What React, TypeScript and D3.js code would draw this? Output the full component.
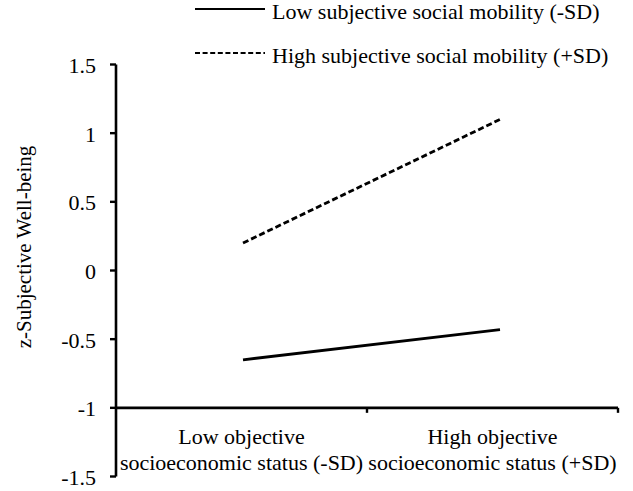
import React from "react";
import * as d3 from "d3";

const categories = ["Low objective|socioeconomic status (-SD)", "High objective|socioeconomic status (+SD)"];
const seriesNames = ["Low subjective social mobility (-SD)", "High subjective social mobility (+SD)"];
const lowMobility = [-0.65, -0.43];
const highMobility = [0.2, 1.1];
const yTicks = [1.5, 1, 0.5, 0, -0.5, -1, -1.5];
const yLabel = "z-Subjective Well-being";

const W = 633, H = 491;
const FONT = "'Liberation Serif', 'Times New Roman', serif";

export default function App() {
  const y = d3.scaleLinear().domain([-1.5, 1.5]).range([476.5, 64.5]);
  const xBand = d3.scaleBand().domain(categories).range([116, 618]).padding(0);
  const xPt = d3.scalePoint().domain(categories).range([243, 500]);
  const line = d3.line<[string, number]>().x(d => xPt(d[0]) as number).y(d => y(d[1]));
  const lowData = categories.map((c, i) => [c, lowMobility[i]] as [string, number]);
  const highData = categories.map((c, i) => [c, highMobility[i]] as [string, number]);
  const axisY = y(-1);
  const tickFmt = (v: number) => (v === 0 ? "0" : String(v));
  return (
    <svg width={W} height={H} style={{ position: "absolute", left: 0, top: 0, background: "#fff" }} fontFamily={FONT}>
      {/* legend */}
      <line x1={195} x2={265} y1={9} y2={9} stroke="#000" strokeWidth={2.2} />
      <text x={272} y={19} fontSize={22}>{seriesNames[0]}</text>
      <line x1={195} x2={265} y1={53} y2={53} stroke="#000" strokeWidth={2} strokeDasharray="5,2.6" />
      <text x={272} y={63} fontSize={22}>{seriesNames[1]}</text>

      {/* y axis */}
      <line x1={116} x2={116} y1={y(1.5)} y2={y(-1.5)} stroke="#000" strokeWidth={2.6} />
      {yTicks.map(t => (
        <g key={t}>
          <line x1={110} x2={116} y1={y(t)} y2={y(t)} stroke="#000" strokeWidth={2.4} />
          <text x={96} y={y(t)} dy="0.38em" textAnchor="end" fontSize={22}>{tickFmt(t)}</text>
        </g>
      ))}
      <text transform="translate(31,247) rotate(-90)" textAnchor="middle" fontSize={21}>{yLabel}</text>

      {/* x axis */}
      <line x1={116} x2={618} y1={axisY} y2={axisY} stroke="#000" strokeWidth={2.6} />
      {categories.map(c => (
        <line key={c} x1={(xBand(c) as number) + xBand.bandwidth()} x2={(xBand(c) as number) + xBand.bandwidth()} y1={axisY} y2={axisY + 5} stroke="#000" strokeWidth={2.4} />
      ))}
      {categories.map(c => {
        const cx = (xBand(c) as number) + xBand.bandwidth() / 2;
        const parts = c.split("|");
        return (
          <text key={c} x={cx} textAnchor="middle" fontSize={22}>
            <tspan x={cx} y={444}>{parts[0]}</tspan>
            <tspan x={cx} y={470}>{parts[1]}</tspan>
          </text>
        );
      })}

      {/* lines */}
      <path d={line(lowData) || ""} fill="none" stroke="#000" strokeWidth={2.8} />
      <path d={line(highData) || ""} fill="none" stroke="#000" strokeWidth={2.8} strokeDasharray="6,3" />
    </svg>
  );
}
